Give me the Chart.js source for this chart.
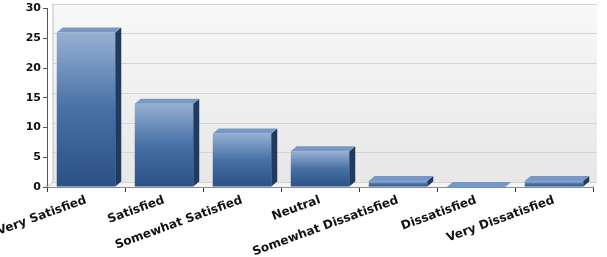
<!DOCTYPE html>
<html>
<head>
<meta charset="utf-8">
<script src="https://cdn.jsdelivr.net/npm/chart.js@4.4.1/dist/chart.umd.min.js"></script>
<style>
  html, body { margin: 0; padding: 0; background: #ffffff; }
  #wrap { width: 607px; height: 257px; }
</style>
</head>
<body>
<div id="wrap"><canvas id="grafico" width="607" height="257"></canvas></div>
<script>
"use strict";

// datos del grafico
const categorias = [
    "Very Satisfied",
    "Satisfied",
    "Somewhat Satisfied",
    "Neutral",
    "Somewhat Dissatisfied",
    "Dissatisfied",
    "Very Dissatisfied"
];
const respuestas = [26, 14, 9, 6, 1, 0, 1];
const ticksY = [0, 5, 10, 15, 20, 25, 30];

// profundidad 3D
const DX = 6;
const DY = 5;

function degradadoFrente(ctx) {
    const chart = ctx.chart;
    if (!chart.chartArea || !chart.scales.y) return "#4670a6";
    const y = chart.scales.y;
    const top = y.getPixelForValue(respuestas[ctx.dataIndex]);
    const base = y.getPixelForValue(0);
    const g = chart.ctx.createLinearGradient(0, top, 0, Math.max(base, top + 1));
    g.addColorStop(0, "#97b0d3");
    g.addColorStop(0.5, "#4670a6");
    g.addColorStop(1, "#2c5084");
    return g;
}

const fondo3D = {
    id: "fondo3D",
    beforeDatasetsDraw(chart) {
        const c = chart.ctx;
        const a = chart.chartArea;
        const y = chart.scales.y;
        c.save();
        // pared trasera
        const g = c.createLinearGradient(0, a.top - DY, 0, a.bottom - DY);
        g.addColorStop(0, "#f8f8f8");
        g.addColorStop(1, "#e7e7e7");
        c.fillStyle = g;
        c.fillRect(a.left + DX, a.top - DY, a.right - a.left + 4 - DX, a.bottom - a.top);
        // piso
        c.fillStyle = "#f3f3f3";
        c.beginPath();
        c.moveTo(a.left, a.bottom);
        c.lineTo(a.left + DX, a.bottom - DY);
        c.lineTo(a.right + 4, a.bottom - DY);
        c.lineTo(a.right, a.bottom);
        c.closePath();
        c.fill();
        // lineas de la grilla en la pared
        c.strokeStyle = "#d4d4d4";
        c.lineWidth = 1;
        ticksY.forEach(function (v) {
            const py = Math.round(y.getPixelForValue(v) - DY) + 0.5;
            c.beginPath();
            c.moveTo(a.left + DX, py);
            c.lineTo(a.right + 4, py);
            c.stroke();
        });
        // borde izquierdo del piso
        c.strokeStyle = "#bdbdbd";
        c.beginPath();
        c.moveTo(a.left, a.bottom);
        c.lineTo(a.left + DX, a.bottom - DY);
        c.lineTo(a.left + DX, a.top - DY);
        c.stroke();
        c.restore();
    },
    afterDatasetsDraw(chart) {
        const c = chart.ctx;
        const meta = chart.getDatasetMeta(0);
        c.save();
        meta.data.forEach(function (bar) {
            const p = bar.getProps(["x", "y", "base", "width"], true);
            const l = p.x - p.width / 2;
            const r = p.x + p.width / 2;
            // cara lateral
            c.fillStyle = "#213b5e";
            c.beginPath();
            c.moveTo(r, p.y);
            c.lineTo(r + DX, p.y - DY);
            c.lineTo(r + DX, p.base - DY);
            c.lineTo(r, p.base);
            c.closePath();
            c.fill();
            // cara superior
            c.fillStyle = "#7897c5";
            c.beginPath();
            c.moveTo(l, p.y);
            c.lineTo(l + DX, p.y - DY);
            c.lineTo(r + DX, p.y - DY);
            c.lineTo(r, p.y);
            c.closePath();
            c.fill();
        });
        c.restore();
    }
};

new Chart(document.getElementById("grafico"), {
    type: "bar",
    data: {
        labels: categorias,
        datasets: [{
            label: "Respuestas",
            data: respuestas,
            backgroundColor: degradadoFrente,
            borderWidth: 0,
            barPercentage: 0.75,
            categoryPercentage: 1
        }]
    },
    options: {
        responsive: false,
        animation: false,
        layout: { padding: { top: 6, right: 14, left: 0, bottom: 0 } },
        plugins: {
            legend: { display: false },
            tooltip: { enabled: false }
        },
        scales: {
            x: {
                offset: true,
                grid: {
                    display: true,
                    drawOnChartArea: false,
                    drawTicks: true,
                    tickLength: 5,
                    color: "#333333"
                },
                border: { display: true, color: "#8c8c8c", width: 2 },
                ticks: {
                    autoSkip: false,
                    minRotation: 20,
                    maxRotation: 20,
                    padding: 1,
                    color: "#111111",
                    font: { family: "DejaVu Sans", size: 12, weight: "bold" }
                },
                afterFit(scale) {
                    scale.height = 70;
                    scale.paddingLeft = 0;
                    scale.paddingRight = 0;
                }
            },
            y: {
                min: 0,
                max: 30,
                afterBuildTicks(scale) {
                    scale.ticks = ticksY.map(function (v) { return { value: v }; });
                },
                grid: {
                    drawOnChartArea: false,
                    drawTicks: true,
                    tickLength: 4,
                    color: "#555555"
                },
                border: { display: true, color: "#555555", width: 1 },
                ticks: {
                    padding: 2,
                    color: "#111111",
                    font: { family: "DejaVu Sans", size: 11, weight: "bold" }
                },
                afterFit(scale) { scale.width = 47; }
            }
        }
    },
    plugins: [fondo3D]
});
</script>
</body>
</html>
